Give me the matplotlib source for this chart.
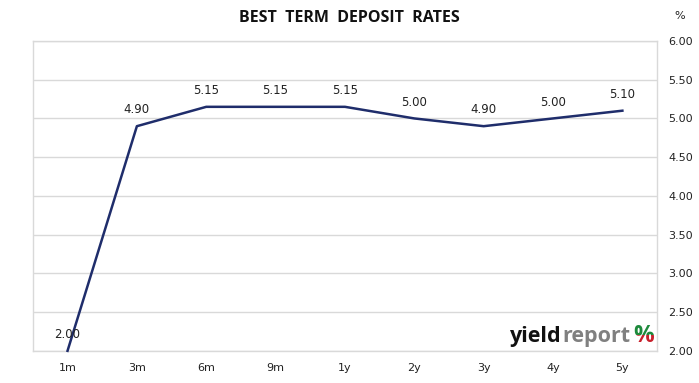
import matplotlib.pyplot as plt
from matplotlib.patches import Rectangle

# data
terms = ['1m', '3m', '6m', '9m', '1y', '2y', '3y', '4y', '5y']
rates = [2.00, 4.90, 5.15, 5.15, 5.15, 5.00, 4.90, 5.00, 5.10]
y_ticks = [2.00, 2.50, 3.00, 3.50, 4.00, 4.50, 5.00, 5.50, 6.00]

line_color = '#1f2d6b'
grid_color = '#d9d9d9'

fig = plt.figure(figsize=(6.99, 3.83), dpi=100)
ax = fig.add_axes([0.047, 0.084, 0.893, 0.809])

x = range(len(terms))
ax.plot(x, rates, color=line_color, linewidth=1.8, clip_on=False, zorder=3)

# point labels
for i, r in enumerate(rates):
    ax.annotate('%.2f' % r, (i, r), xytext=(0, 7), textcoords='offset points',
                ha='center', va='bottom', fontsize=8.5, color='#222222')

ax.set_xlim(-0.5, len(terms) - 0.5)
ax.set_ylim(2.0, 6.0)
ax.set_xticks(list(x))
ax.set_xticklabels(terms)
ax.set_yticks(y_ticks)
ax.set_yticklabels(['%.2f' % t for t in y_ticks])
ax.yaxis.tick_right()
ax.tick_params(axis='both', length=0, labelsize=8, colors='#222222')
ax.tick_params(axis='y', pad=8)
ax.tick_params(axis='x', pad=9)
ax.grid(axis='y', color=grid_color, linewidth=1)
ax.set_axisbelow(True)
for s in ax.spines.values():
    s.set_color(grid_color)
    s.set_linewidth(1)

fig.text(0.5, 0.953, 'BEST  TERM  DEPOSIT  RATES', ha='center', va='center',
         fontsize=11.5, fontweight='bold', family='Open Sans', color='#111111')
fig.text(0.973, 0.958, '%', ha='center', va='center', fontsize=8, color='#222222')

# yieldreport logo
logo_y = 0.122
fig.text(0.730, logo_y, 'yield', ha='left', va='center', fontsize=15.5,
         fontweight='bold', family='Open Sans', color='#111111')
fig.text(0.805, logo_y, 'report', ha='left', va='center', fontsize=15.5,
         fontweight='bold', family='Open Sans', color='#808080')
# two-tone percent sign: green top, red bottom
split = logo_y + 0.004
for col, y0, h in [('#1e8a3c', split, 0.2), ('#c8202c', split - 0.2, 0.2)]:
    t = fig.text(0.906, logo_y + 0.002, '%', ha='left', va='center', fontsize=16.5,
                 fontweight='bold', family='Open Sans', color=col)
    t.set_clip_path(Rectangle((0.85, y0), 0.15, h, transform=fig.transFigure))

fig.savefig('out.png', dpi=100)
